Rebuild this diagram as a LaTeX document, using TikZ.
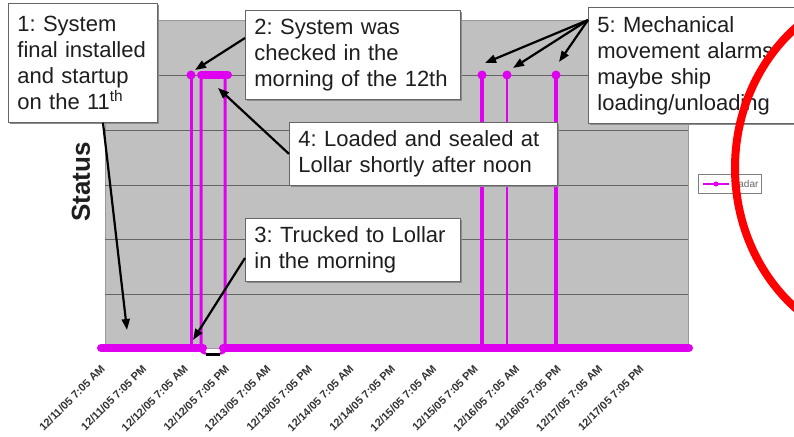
\documentclass[tikz,border=0pt]{standalone}
\usepackage{fontspec}
\setmainfont{Liberation Sans}
\usetikzlibrary{arrows.meta,shadows,calc}
\definecolor{mag}{RGB}{222,0,238}
\definecolor{plotgray}{RGB}{192,192,192}
\definecolor{gridc}{RGB}{100,100,100}
\definecolor{txt}{RGB}{30,30,30}
\frenchspacing
\begin{document}
\begin{tikzpicture}[x=1pt,y=-1pt,
  annot/.style={draw=black!60, fill=white, line width=0.8pt, anchor=north west, align=left,
    inner xsep=9pt, inner ysep=0pt, font=\fontsize{22}{26}\selectfont, text=txt,
    drop shadow={shadow xshift=1.5pt, shadow yshift=-1.5pt, fill=black!45, opacity=1}},
  callout/.style={draw=black, line width=2.2pt, -{Triangle[length=11pt,width=8pt]}},
  series/.style={draw=mag, line width=3pt},
  marker/.style={circle, fill=mag, inner sep=0pt, minimum size=9pt},
  xlab/.style={anchor=east, rotate=45, font=\bfseries\fontsize{11}{12}\selectfont, text=black!80, inner sep=0pt}]
\useasboundingbox (0,0) rectangle (794,436);
\begin{scope}
\clip (0,0) rectangle (794,436);
% plot area
\fill[plotgray, draw=black!40, line width=0.8pt] (105,20) rectangle (688,348);
\foreach \yy in {75,130,185,239,294} \draw[gridc, line width=1pt] (105,\yy) -- (688,\yy);
% axis title
\node[rotate=90, font=\bfseries\fontsize{26}{28}\selectfont, text=txt] (ytitle) at (81,182) {Status};
% series
\draw[mag, line width=8pt, line cap=round] (101,348) -- (203,348);
\draw[mag, line width=8pt, line cap=round] (223,348) -- (689,348);
\draw[black, line width=3pt] (206,354) -- (220,354);
\draw[series] (191,75) -- (191,348);
\draw[series, rounded corners=4pt] (201,75) -- (201,353) -- (206,353);
\draw[series, rounded corners=4pt] (220,353) -- (225,353) -- (225,75);
\draw[mag, line width=8pt, line cap=round] (201,75) -- (228,75);
\draw[series, line width=3.5pt] (482,75) -- (482,348);
\draw[series, line width=2.5pt] (507,75) -- (507,348);
\draw[series, line width=3.5pt] (556,75) -- (556,348);
\node[marker] (m1) at (191,75) {};
\node[marker] (m2) at (482,75) {};
\node[marker] (m3) at (507,75) {};
\node[marker] (m4) at (556,75) {};
% x labels
\foreach [count=\i from 0] \lab in {12/11/05 7:05 AM,12/11/05 7:05 PM,12/12/05 7:05 AM,12/12/05 7:05 PM,12/13/05 7:05 AM,12/13/05 7:05 PM,12/14/05 7:05 AM,12/14/05 7:05 PM,12/15/05 7:05 AM,12/15/05 7:05 PM,12/16/05 7:05 AM,12/16/05 7:05 PM,12/17/05 7:05 AM,12/17/05 7:05 PM}
  \node[xlab] (xl\i) at ({103+41.45*\i},367) {\lab};
% legend
\node[draw=black!50, fill=white, line width=0.8pt, minimum width=63pt, minimum height=19pt, inner sep=0pt] (leg) at (729.5,183.5) {};
\draw[mag, line width=1.2pt] (703,184) -- (729,184);
\node[marker, minimum size=5pt] (legm) at (716,184) {};
\node[anchor=west, font=\fontsize{10}{11}\selectfont, text=black!60, inner sep=0pt] (legt) at (731,184) {Radar};
% targets
\coordinate (t1) at (127,330);
\coordinate (t2) at (195,70);
\coordinate (t3) at (193,340);
\coordinate (t4) at (218,88);
\coordinate (t5a) at (485,63);
\coordinate (t5b) at (513,68);
\coordinate (t5c) at (559,62);
% boxes
\node[annot, text width=131pt, minimum height=119pt] (b1) at (8,3) {1: System\\final installed\\and startup\\on the 11\textsuperscript{th}};
\node[annot, text width=197pt, minimum height=89pt] (b2) at (245,10) {2: System was\\checked in the\\morning of the 12th};
\node[annot, text width=197pt, minimum height=63pt] (b3) at (245,218) {3: Trucked to Lollar\\in the morning};
\node[annot, text width=250pt, minimum height=63pt] (b4) at (289,122) {4: Loaded and sealed at\\Lollar shortly after noon};
\node[annot, text width=220pt, minimum height=116pt] (b5) at (588,7) {5: Mechanical\\movement alarms\\maybe ship\\loading/unloading};
% callouts
\draw[callout] ($(b1.south west)+(95,0)$) -- (t1);
\draw[callout] ($(b2.north west)+(0,28)$) -- (t2);
\draw[callout] ($(b3.north west)+(0,40)$) -- (t3);
\draw[callout] (b4.west) -- (t4);
\coordinate (s5) at ($(b5.north west)+(0,13)$);
\draw[callout] (s5) -- (t5a);
\draw[callout] (s5) -- (t5b);
\draw[callout] (s5) -- (t5c);
% red ellipse
\draw[red, line width=8pt] (900,168) ellipse [x radius=165, y radius=181];
\end{scope}
\end{tikzpicture}
\end{document}
